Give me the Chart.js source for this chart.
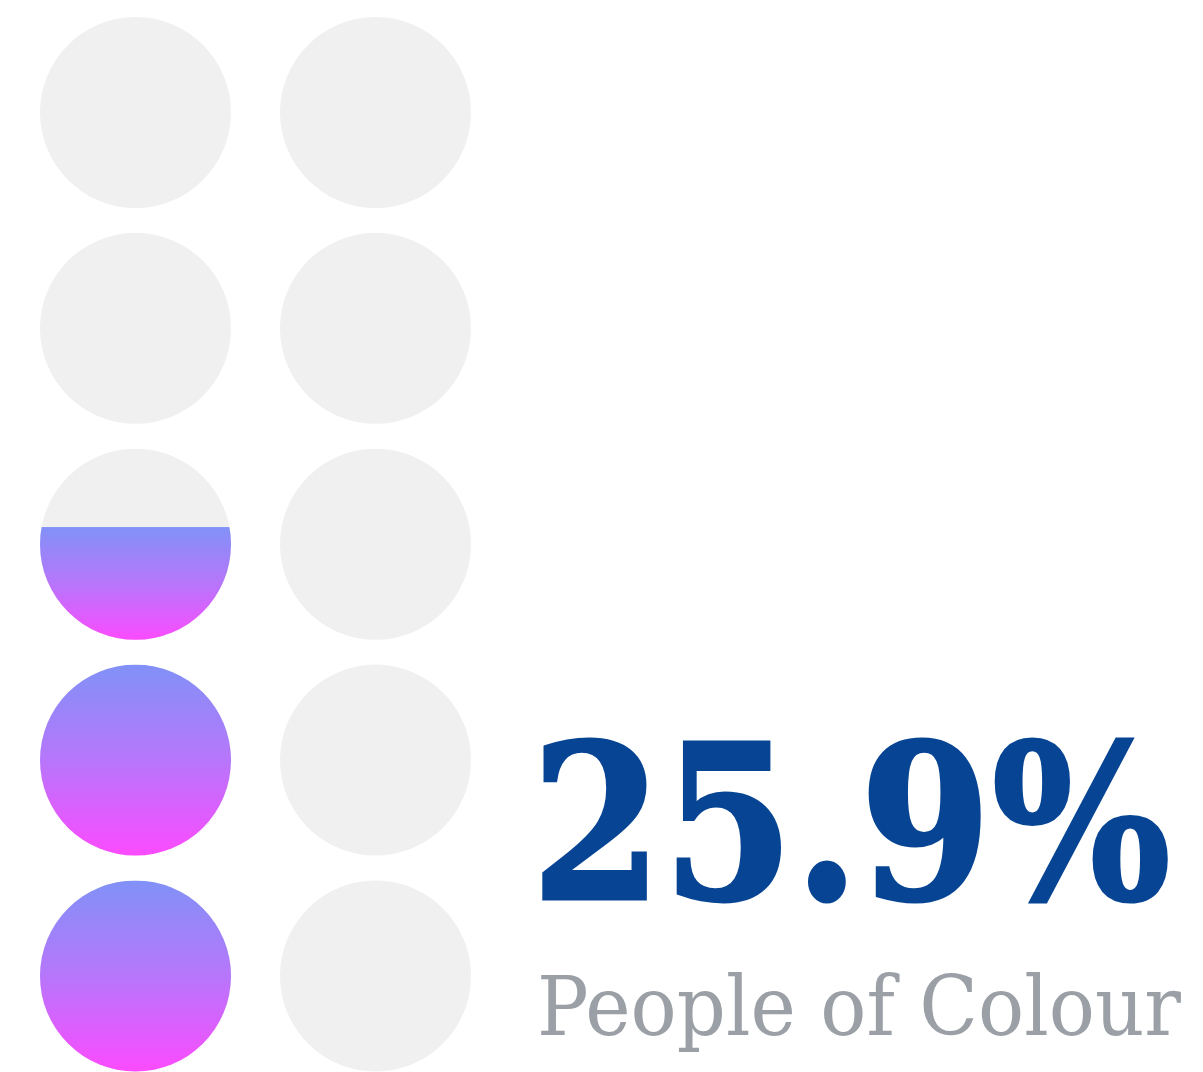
<!DOCTYPE html>
<html>
<head>
<meta charset="utf-8">
<script src="https://cdn.jsdelivr.net/npm/chart.js@4"></script>
<style>
    body { margin: 0; background: #fff; }
    .wrap { position: relative; width: 1203px; height: 1072px; }
    .txt { position: absolute; left: 0; top: 0; white-space: nowrap; transform-origin: 0 0; }
    .txt i { display: inline-block; width: 0; height: 0; vertical-align: baseline; }
    #valor { font-family: "DejaVu Serif", serif; font-weight: bold; color: #074594; font-size: 215px; line-height: 1; -webkit-text-stroke: 3px #074594; }
    #rotulo { font-family: "DejaVu Serif", serif; color: #9ba0a6; font-size: 82px; line-height: 1; }
</style>
</head>
<body>
<div class="wrap">
    <canvas id="GraficoPessoas" width="1203" height="1072"></canvas>
    <div class="txt" id="valor"><span></span><i></i></div>
    <div class="txt" id="rotulo"><span></span><i></i></div>
</div>
<script>
/*Dados do gráfico*/
var colunas = [0, 0, 0, 0, 0, 1, 1, 1, 1, 1];
var linhas = [0, 1, 2, 3, 4, 0, 1, 2, 3, 4];
var preenchido = [1, 1, 0.59, 0, 0, 0, 0, 0, 0, 0];
var valorTexto = '25.9%';
var rotuloTexto = 'People of Colour';

/*Plugin que pinta a parte preenchida de cada círculo*/
var pluginPreenchimento = {
    id: 'preenchimento',
    afterDatasetsDraw: function (chart) {
        var ctx = chart.ctx;
        var meta = chart.getDatasetMeta(0);
        meta.data.forEach(function (ponto, i) {
            var f = preenchido[i];
            if (!f) return;
            var r = ponto.options.radius;
            var topo = ponto.y + r - 2 * r * f;
            var grad = ctx.createLinearGradient(0, topo, 0, ponto.y + r);
            grad.addColorStop(0, '#8191f7');
            grad.addColorStop(0.5, '#b776fb');
            grad.addColorStop(1, '#fb4bff');
            ctx.save();
            ctx.beginPath();
            ctx.arc(ponto.x, ponto.y, r, 0, Math.PI * 2);
            ctx.clip();
            ctx.fillStyle = grad;
            ctx.fillRect(ponto.x - r - 1, topo, 2 * r + 2, ponto.y + r - topo + 1);
            ctx.restore();
        });
    }
};

var ctx = document.getElementById('GraficoPessoas').getContext('2d');

var grafico = new Chart(ctx, {
    type: 'scatter',
    data: {
        datasets: [{
            label: 'Pessoas',
            data: colunas.map(function (c, i) { return { x: c, y: linhas[i] }; }),
            backgroundColor: '#eff0ef',
            borderWidth: 0,
            pointRadius: 95.5,
            pointHoverRadius: 95.5,
            clip: false
        }]
    },
    options: {
        responsive: false,
        devicePixelRatio: 1,
        animation: false,
        events: [],
        layout: { padding: 0, autoPadding: false },
        scales: {
            x: { display: false, min: -0.5646, max: 4.4479 },
            y: { display: false, min: -0.4447, max: 4.5211 }
        },
        plugins: {
            legend: { display: false },
            tooltip: { enabled: false }
        }
    },
    plugins: [pluginPreenchimento]
});

/*Posiciona os textos pela linha de base e ajusta a largura*/
function PosicionarTexto(id, texto, esquerda, base, largura) {
    var el = document.getElementById(id);
    var span = el.querySelector('span');
    span.textContent = texto;
    var marca = el.querySelector('i');
    var w = span.getBoundingClientRect().width;
    var escala = largura / w;
    var b = marca.offsetTop;
    el.style.left = esquerda + 'px';
    el.style.top = (base - b) + 'px';
    el.style.transform = 'scaleX(' + escala + ')';
}

PosicionarTexto('valor', valorTexto, 531, 899, 640);
PosicionarTexto('rotulo', rotuloTexto, 537, 1035, 644);
</script>
</body>
</html>
